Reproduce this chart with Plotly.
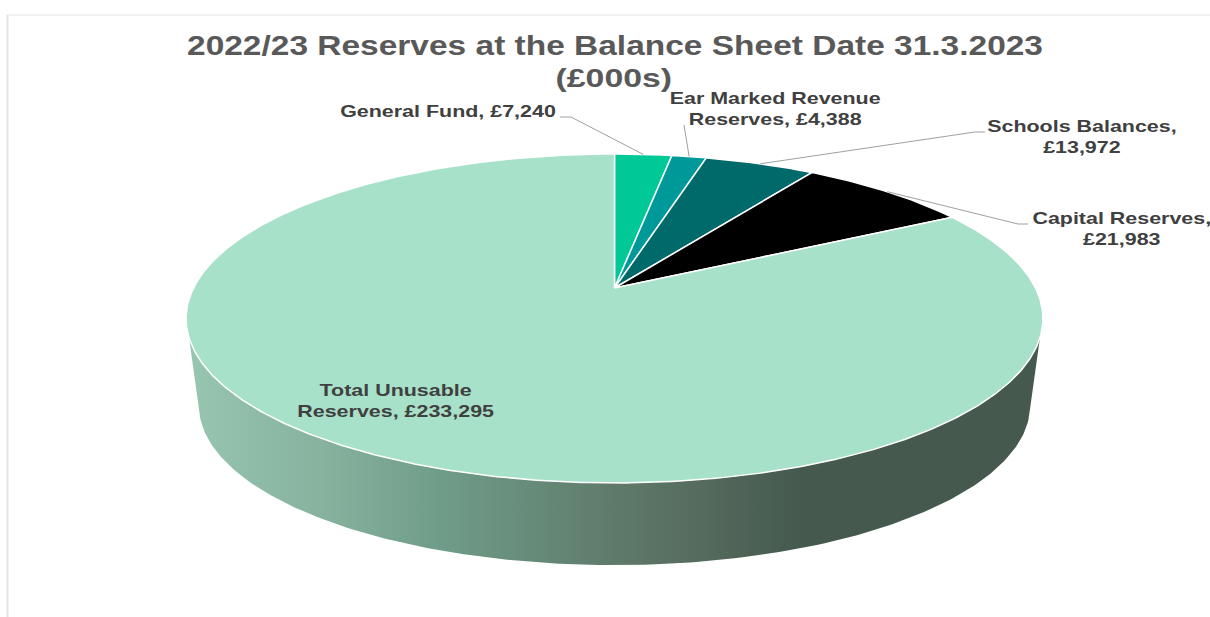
import numpy as np
import plotly.graph_objects as go

# Reserves at 31.3.2023 in £000s, clockwise from twelve o'clock
categories = ["General Fund", "Ear Marked Revenue Reserves", "Schools Balances",
              "Capital Reserves", "Total Unusable Reserves"]
values = [7240, 4388, 13972, 21983, 233295]
slice_colors = ["#00C896", "#009999", "#006A6A", "#000000", "#A8E1C9"]
label_texts = ["General Fund, £7,240", "Ear Marked Revenue<br>Reserves, £4,388",
               "Schools Balances,<br>£13,972", "Capital Reserves,<br>£21,983",
               "Total Unusable<br>Reserves, £233,295"]
title_text = "2022/23 Reserves at the Balance Sheet Date 31.3.2023"
title_units = "(£000s)"

# Perspective of the disc, in canvas units
CX, APEX_Y = 614.5, 288.0
RX, RY, TILT = 421.0, 158.8, 0.1854
BASE_SCALE, BASE_APEX_Y = 0.97, 376.0

# Label centres and the elbow of each leader line
label_pos = [(448, 111), (775, 108), (1082, 136.5), (1121.5, 228.5), (395, 400.5)]
leader_ends = [[(571, 117), (560, 117)], [(684, 125)], [(975, 132), (985, 132)],
               [(1018, 224), (1028, 224)], None]


def project(theta, scale=1.0, apex_y=APEX_Y):
    """Map a clockwise angle on the disc to canvas coordinates."""
    u, v = np.sin(theta), np.cos(theta)
    d = 1 + TILT * v
    return CX + scale * RX * u / d, apex_y - scale * RY * v / d


fractions = np.array(values) / sum(values)
edges = np.concatenate([[0], np.cumsum(fractions)]) * 2 * np.pi

fig = go.Figure()

# Side wall: lower half of the base rim joined to the front of the top rim
rim = np.linspace(np.radians(100), np.radians(260), 240)
top_x, top_y = project(rim)
low = np.linspace(np.radians(90), np.radians(270), 240)
base_x, base_y = project(low, BASE_SCALE, BASE_APEX_Y)
keep = base_y >= 408
fig.add_trace(go.Scatter(
    x=np.concatenate([top_x, base_x[keep][::-1]]),
    y=np.concatenate([top_y, base_y[keep][::-1]]),
    mode="lines", fill="toself", line=dict(width=0), hoverinfo="skip", showlegend=False,
    fillgradient=dict(
        type="horizontal", start=186, stop=1043,
        colorscale=[[0, "#97C6B1"], [0.16, "#86B29E"], [0.3, "#6F9C88"], [0.5, "#5F7A6B"],
                    [0.6, "#556B5D"], [0.72, "#45594E"], [1, "#45594E"]],
    ),
))

# Top face, one wedge per category
for i, name in enumerate(categories):
    t = np.linspace(edges[i], edges[i + 1], max(8, int(fractions[i] * 720)))
    x, y = project(t)
    fig.add_trace(go.Scatter(
        x=np.concatenate([[CX], x, [CX]]), y=np.concatenate([[APEX_Y], y, [APEX_Y]]),
        mode="lines", fill="toself", fillcolor=slice_colors[i],
        line=dict(color="white", width=1.5), name=name,
        text=f"{name}: £{values[i]:,}", hoverinfo="text", hoveron="fills", showlegend=False,
    ))

# Leader lines run from each wedge's mid angle to its label
for i, ends in enumerate(leader_ends):
    if ends is None:
        continue
    mx, my = project((edges[i] + edges[i + 1]) / 2)
    fig.add_trace(go.Scatter(
        x=[mx] + [p[0] for p in ends], y=[my] + [p[1] for p in ends],
        mode="lines", line=dict(color="#A0A0A0", width=1), hoverinfo="skip", showlegend=False,
    ))

for text, (lx, ly) in zip(label_texts, label_pos):
    fig.add_annotation(x=lx, y=ly, text=text, showarrow=False, align="center",
                       font=dict(family="Liberation Sans", size=16.5, color="#404040", weight="bold"))

# Second line of the heading, carrying the units
fig.add_annotation(x=614, y=78, text=title_units, showarrow=False,
                   font=dict(family="Liberation Sans", size=26, color="#595959", weight="bold"))

# Chart frame along the top and left
frame = dict(type="line", xref="x", yref="y")
shapes = [
    dict(frame, x0=7, x1=1210, y0=15, y1=15, line=dict(color="#E4E4E4", width=1)),
    dict(frame, x0=7.5, x1=7.5, y0=15, y1=617, line=dict(color="#E4E4E4", width=2)),
]

fig.update_layout(
    width=1210, height=617, margin=dict(l=0, r=0, t=0, b=0),
    paper_bgcolor="white", plot_bgcolor="white", shapes=shapes, showlegend=False,
    title=dict(text=title_text, x=615 / 1210, xanchor="center", y=1 - 46 / 617, yanchor="middle",
               font=dict(family="Liberation Sans", size=27, color="#595959", weight="bold")),
    xaxis=dict(range=[0, 1210], visible=False, fixedrange=True),
    yaxis=dict(range=[617, 0], visible=False, fixedrange=True),
)

# The text is set in a widened face, so stretch it horizontally about its centre
widen = """
var s = document.createElement('style');
s.textContent = '.annotation-text {transform-box: fill-box; transform-origin: center; transform: scaleX(1.3);}'
  + '.gtitle {transform-box: fill-box; transform-origin: center; transform: scaleX(1.24);}';
document.head.appendChild(s);
"""
fig.write_html("out.html", post_script=widen, config={"displayModeBar": False})
